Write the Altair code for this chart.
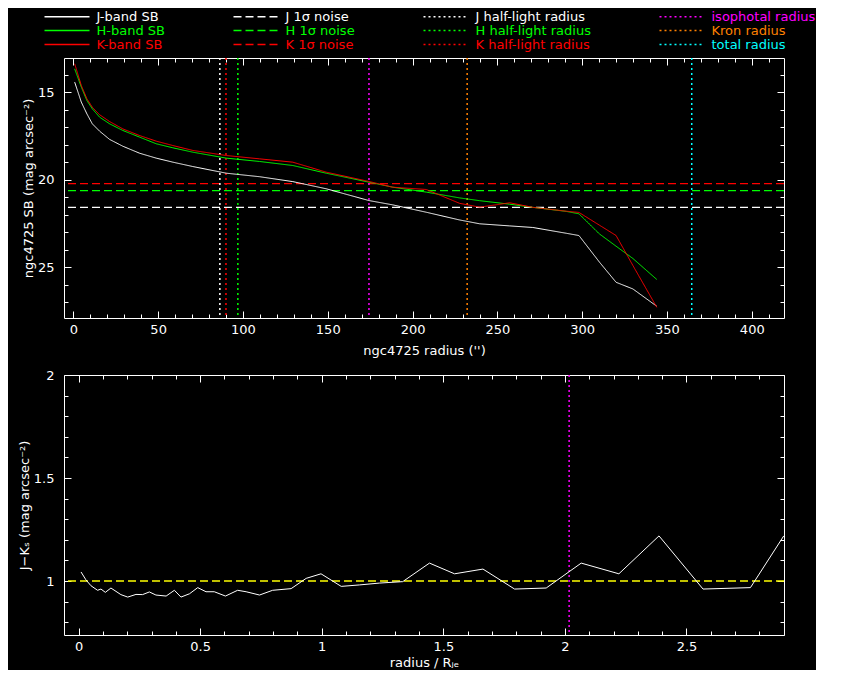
import altair as alt
import pandas as pd

# ---------------- data ----------------
radius = [0.8, 4.7, 8.0, 11.2, 15.5, 21.4, 29.2, 39.1, 48.9, 58.7, 70.5, 90.2, 109.8,
          129.4, 149.1, 174.2, 188.4, 208.1, 227.7, 239.6, 257.3, 270.9, 290.6, 298.1,
          310.2, 320.0, 329.9, 344.0]
j_sb = [14.43, 15.57, 16.24, 16.81, 17.23, 17.70, 18.09, 18.49, 18.77, 19.00, 19.25, 19.63,
        19.83, 20.11, 20.52, 21.19, 21.44, 21.86, 22.30, 22.52, 22.64, 22.73, 23.06, 23.19,
        24.71, 25.86, 26.24, 27.23]
h_sb = [13.67, 14.71, 15.48, 15.95, 16.43, 16.81, 17.19, 17.57, 17.95, 18.18, 18.43, 18.77,
        18.96, 19.19, 19.63, 20.14, 20.43, 20.71, 21.04, 21.20, 21.40, 21.58, 21.81, 21.95,
        23.10, 23.80, 24.50, 25.70]
k_sb = [13.38, 14.62, 15.38, 15.86, 16.29, 16.68, 17.10, 17.48, 17.80, 18.05, 18.33, 18.62,
        18.81, 19.00, 19.57, 20.10, 20.43, 20.56, 21.35, 21.57, 21.32, 21.58, 21.80, 21.87,
        22.60, 23.19, 24.90, 27.29]

noise_labels = ["J 1σ noise", "H 1σ noise", "K 1σ noise"]
noise_values = [21.58, 20.63, 20.23]

half_light_labels = ["J half-light radius", "H half-light radius", "K half-light radius"]
half_light_values = [86.4, 97.0, 90.0]

other_radius_labels = ["isophotal radius", "Kron radius", "total radius"]
other_radius_values = [174.3, 232.2, 364.6]

color_radius = [0.01, 0.03, 0.051, 0.078, 0.092, 0.11, 0.133, 0.174, 0.202, 0.236, 0.263,
                0.291, 0.318, 0.36, 0.394, 0.421, 0.456, 0.49, 0.524, 0.558, 0.604, 0.654,
                0.689, 0.744, 0.798, 0.874, 0.936, 0.997, 1.08, 1.155, 1.237, 1.333, 1.443,
                1.546, 1.663, 1.793, 1.923, 2.067, 2.222, 2.387, 2.568, 2.763, 2.9]
j_minus_k = [1.044, 1.006, 0.977, 0.955, 0.961, 0.945, 0.966, 0.934, 0.922, 0.935, 0.934,
             0.947, 0.932, 0.927, 0.955, 0.922, 0.938, 0.968, 0.948, 0.948, 0.927, 0.955,
             0.948, 0.932, 0.955, 0.963, 1.013, 1.035, 0.974, 0.981, 0.99, 0.997, 1.087,
             1.035, 1.058, 0.961, 0.966, 1.087, 1.035, 1.219, 0.961, 0.968, 1.219]
color_reference = [1.0]

# tick positions (major ticks carry labels)
top_x_major = list(range(0, 401, 50))
top_x_minor = [v for v in range(0, 420, 10) if v % 50 != 0]
top_y_major = [15, 20, 25]
top_y_minor = [v for v in range(14, 28) if v % 5 != 0]
bot_x_major = [0, 0.5, 1.0, 1.5, 2.0, 2.5]
bot_x_minor = [round(i * 0.1, 1) for i in range(0, 30) if i % 5 != 0]
bot_y_major = [1.0, 1.5, 2.0]
bot_y_minor = [round(0.8 + i * 0.1, 1) for i in range(0, 12) if (8 + i) % 5 != 0]

# ---------------- styles ----------------
FONT = "DejaVu Sans"
WHITE, GREEN, RED = "#ffffff", "#00ff00", "#ff0000"
MAGENTA, ORANGE, CYAN, YELLOW = "#ff00ff", "#ff8000", "#00ffff", "#ffff00"
SOLID, DASHED, DOTTED = [1, 0], [8, 4], [2, 3]
MAJOR, MINOR = 7, 4

series_order = ["J-band SB", "H-band SB", "K-band SB",
                "J 1σ noise", "H 1σ noise", "K 1σ noise",
                "J half-light radius", "H half-light radius", "K half-light radius",
                "isophotal radius", "Kron radius", "total radius"]
series_colors = [WHITE, GREEN, RED, WHITE, GREEN, RED, WHITE, GREEN, RED, MAGENTA, ORANGE, CYAN]
series_dashes = [SOLID] * 3 + [DASHED] * 3 + [DOTTED] * 6

legend = alt.Legend(
    title=None, titlePadding=0, orient="none", legendX=-3.5, legendY=-48, columns=4,
    symbolType="M-4.5,0H4.5", symbolSize=100, symbolStrokeWidth=1.4,
    labelFont=FONT, labelFontSize=13,
    labelColor={"expr": "scale('color', datum.value)"},
    labelOffset=23, columnPadding=65, rowPadding=0, padding=0, labelLimit=300,
)
color_enc = alt.Color("series:N", scale=alt.Scale(domain=series_order, range=series_colors),
                      legend=legend)
dash_enc = alt.StrokeDash("series:N", scale=alt.Scale(domain=series_order, range=series_dashes),
                          legend=legend)


def mk_axis(orient, values, size, title=None, labels=False, label_padding=5, title_padding=10):
    return alt.Axis(
        orient=orient, values=values, title=title, labels=labels, grid=False, domain=False,
        offset=-size, tickSize=size, tickColor=WHITE, tickWidth=1,
        labelExpr="format(datum.value, '~g')",
        labelColor=WHITE, labelFont=FONT, labelFontSize=13, labelPadding=label_padding,
        labelOverlap=False, labelFlush=False,
        titleColor=WHITE, titleFont=FONT, titleFontSize=13, titleFontWeight="normal",
        titlePadding=title_padding,
    )


def frame_layers(df, xf, yf, xs, ys, xmaj, xmin, ymaj, ymin, xtitle, ytitle, xtitle_pad):
    base = alt.Chart(df).mark_point(opacity=0)
    return [
        base.encode(
            x=alt.X(xf, scale=xs, axis=mk_axis("bottom", xmaj, MAJOR, title=xtitle, labels=True,
                                               title_padding=xtitle_pad)),
            y=alt.Y(yf, scale=ys, axis=mk_axis("left", ymaj, MAJOR, title=ytitle, labels=True,
                                               label_padding=10, title_padding=2))),
        base.encode(
            x=alt.X(xf, scale=xs, axis=mk_axis("bottom", xmin, MINOR)),
            y=alt.Y(yf, scale=ys, axis=mk_axis("left", ymin, MINOR))),
        base.encode(
            x=alt.X(xf, scale=xs, axis=mk_axis("top", xmaj, MAJOR)),
            y=alt.Y(yf, scale=ys, axis=mk_axis("right", ymaj, MAJOR))),
        base.encode(
            x=alt.X(xf, scale=xs, axis=mk_axis("top", xmin, MINOR)),
            y=alt.Y(yf, scale=ys, axis=mk_axis("right", ymin, MINOR))),
    ]


# ---------------- top panel ----------------
n = len(radius)
sb_df = pd.DataFrame({
    "r": radius * 3,
    "sb": j_sb + h_sb + k_sb,
    "series": ["J-band SB"] * n + ["H-band SB"] * n + ["K-band SB"] * n,
})
noise_df = pd.DataFrame({"sb": noise_values, "series": noise_labels})
rad_df = pd.DataFrame({"r": half_light_values + other_radius_values,
                       "series": half_light_labels + other_radius_labels})

xs_top = alt.Scale(domain=[-5.5, 419], nice=False, zero=False)
ys_top = alt.Scale(domain=[13.05, 27.9], reverse=True, nice=False, zero=False)

noise_layer = alt.Chart(noise_df).mark_rule(strokeWidth=1.2).encode(
    y=alt.Y("sb:Q", scale=ys_top, axis=None), color=color_enc, strokeDash=dash_enc)
rad_layer = alt.Chart(rad_df).mark_rule(strokeWidth=1.5).encode(
    x=alt.X("r:Q", scale=xs_top, axis=None), color=color_enc, strokeDash=dash_enc)
sb_layer = alt.Chart(sb_df).mark_line(strokeWidth=1, clip=True).encode(
    x=alt.X("r:Q", scale=xs_top, axis=None),
    y=alt.Y("sb:Q", scale=ys_top, axis=None),
    color=color_enc, strokeDash=dash_enc)

top = alt.layer(
    noise_layer, rad_layer, sb_layer,
    *frame_layers(sb_df, "r:Q", "sb:Q", xs_top, ys_top, top_x_major, top_x_minor,
                  top_y_major, top_y_minor, "ngc4725 radius ('')", "ngc4725 SB (mag arcsec⁻²)", 8)
).resolve_axis(x="independent", y="independent").properties(width=720, height=260)

# ---------------- bottom panel ----------------
col_df = pd.DataFrame({"x": color_radius, "jk": j_minus_k})
ref_df = pd.DataFrame({"v": color_reference})
iso_df = pd.DataFrame({"v": [other_radius_values[0] / half_light_values[0]]})

xs_bot = alt.Scale(domain=[-0.06, 2.901], nice=False, zero=False)
ys_bot = alt.Scale(domain=[0.738, 2.0], nice=False, zero=False)

ref_layer = alt.Chart(ref_df).mark_rule(color=YELLOW, strokeWidth=1.3, strokeDash=DASHED).encode(
    y=alt.Y("v:Q", scale=ys_bot, axis=None))
iso_layer = alt.Chart(iso_df).mark_rule(color=MAGENTA, strokeWidth=1.5, strokeDash=DOTTED).encode(
    x=alt.X("v:Q", scale=xs_bot, axis=None))
col_layer = alt.Chart(col_df).mark_line(color=WHITE, strokeWidth=1, clip=True).encode(
    x=alt.X("x:Q", scale=xs_bot, axis=None),
    y=alt.Y("jk:Q", scale=ys_bot, axis=None))

bottom = alt.layer(
    ref_layer, iso_layer, col_layer,
    *frame_layers(col_df, "x:Q", "jk:Q", xs_bot, ys_bot, bot_x_major, bot_x_minor,
                  bot_y_major, bot_y_minor, "radius / Rⱼₑ", "J−Kₛ (mag arcsec⁻²)", 3)
).resolve_axis(x="independent", y="independent").properties(width=720, height=260)

chart = alt.vconcat(top, bottom, spacing=10).properties(
    padding={"left": 9, "top": 2, "right": 0, "bottom": 0}
).configure(background="black", font=FONT).configure_view(stroke=WHITE, strokeWidth=1, fill="black")

chart.save("out.html", embed_options={"renderer": "svg", "actions": False})
